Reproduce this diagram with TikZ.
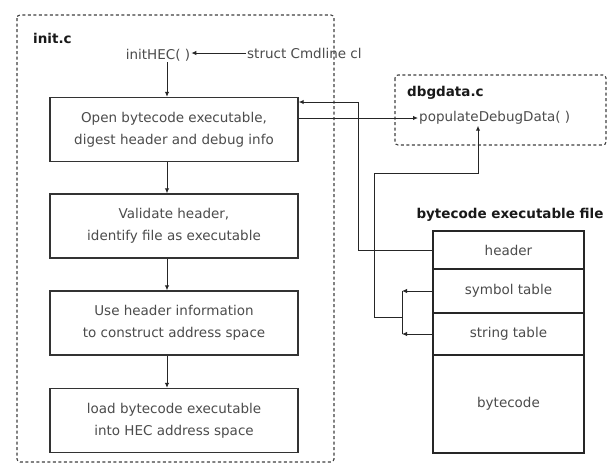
\documentclass[tikz,border=0pt]{standalone}
\usepackage{fontspec}
\setmainfont{DejaVu Sans}
\usetikzlibrary{arrows.meta}
\begin{document}
\begin{tikzpicture}[x=1pt,y=-1pt,
  arr/.style={draw=black!85,line width=1pt,-{Latex[length=5pt,width=4.5pt]}},
  wire/.style={draw=black!85,line width=1pt},
  group/.style={draw=black!75,line width=1.1pt,dash pattern=on 3pt off 2.5pt,rounded corners=3pt},
  stepbox/.style={draw=black!80,line width=1.4pt,minimum width=248pt,minimum height=64pt,
    align=center,font=\fontsize{13.5}{22}\selectfont,text=black!70,inner sep=0pt},
  cell/.style={draw=black!85,line width=1.3pt,minimum width=151pt,inner sep=0pt,
    font=\fontsize{13.5}{16}\selectfont,text=black!70},
  lbl/.style={font=\fontsize{13.5}{16}\selectfont,text=black!70,inner sep=1pt},
  title/.style={font=\bfseries\fontsize{13.5}{16}\selectfont,text=black!90,inner sep=0pt}]
\useasboundingbox (0,0) rectangle (610,472);
\fill[white] (0,0) rectangle (610,472);

% source module groups
\draw[group] (17,15) rectangle (334,462);
\draw[group] (395,75) rectangle (606,145);
\node[title,anchor=west] (initc) at (33,38) {init.c};
\node[title,anchor=west] (dbgc) at (407,93) {dbgdata.c};

% entry point and its argument
\node[lbl] (init) at (158,55) {initHEC( )};
\node[lbl,anchor=west] (cmd) at (246,53) {struct Cmdline cl};

% processing steps
\node[stepbox] (b1) at (174,129.5) {Open bytecode executable,\\digest header and debug info};
\node[stepbox] (b2) at (174,226) {Validate header,\\identify file as executable};
\node[stepbox] (b3) at (174,323) {Use header information\\to construct address space};
\node[stepbox] (b4) at (174,420.5) {load bytecode executable\\into HEC address space};

% debug data routine
\node[lbl,anchor=west] (pdd) at (418,118) {populateDebugData( )};

% bytecode file layout
\node[title] (bft) at (510,215) {bytecode executable file};
\node[cell,minimum height=38pt] (hdr) at (508.5,250) {header};
\node[cell,minimum height=44pt] (sym) at (508.5,291) {symbol table};
\node[cell,minimum height=42pt] (str) at (508.5,334) {string table};
\node[cell,minimum height=98pt] (bc) at (508.5,404) {bytecode};

% routing points
\coordinate (col) at (167,0);
\coordinate (c1) at (358,102);
\coordinate (jx) at (402,317);
\coordinate (c2) at (374,173);
\coordinate (c3) at (478,173);

% control flow
\draw[arr] (cmd.west) -- (init.east |- cmd.west);
\draw[arr] (init.south -| col) -- (b1.north -| col);
\draw[arr] (b1.south -| col) -- (b2.north -| col);
\draw[arr] (b2.south -| col) -- (b3.north -| col);
\draw[arr] (b3.south -| col) -- (b4.north -| col);
\draw[arr] (b1.east |- pdd.west) -- (pdd.west);

% header feeds the loader
\draw[arr] (hdr.west) -- (hdr.west -| c1) -- (c1) -- (c1 -| b1.east);

% symbol and string tables feed the debug data routine
\draw[arr] (sym.west) -- (sym.west -| jx);
\draw[arr] (str.west) -- (str.west -| jx);
\draw[wire] (sym.west -| jx) -- (str.west -| jx);
\draw[arr] (jx) -- (jx -| c2) -- (c2) -- (c3) -- (c3 |- pdd.south);
\end{tikzpicture}
\end{document}
